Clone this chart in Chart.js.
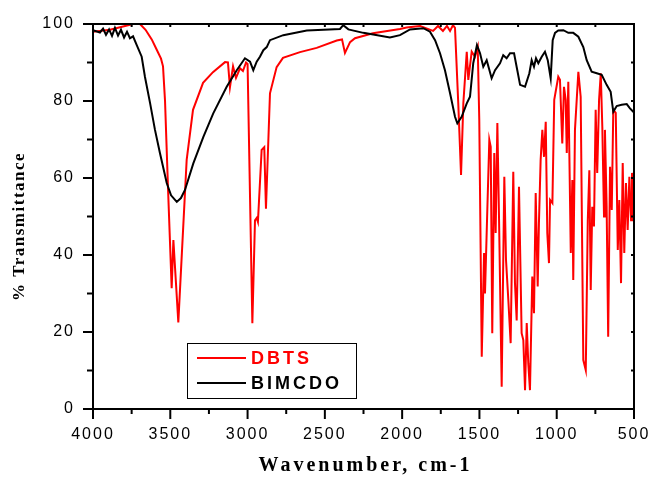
<!DOCTYPE html>
<html>
<head>
<meta charset="utf-8">
<script src="https://cdn.jsdelivr.net/npm/chart.js@4"></script>
<style>
  html, body { margin: 0; padding: 0; background: #fff; }
  #wrap { width: 651px; height: 477px; }
</style>
</head>
<body>
<div id="wrap"><canvas id="irChart" width="651" height="477"></canvas></div>
<script>
// IR spectra, wavenumber (cm-1) vs % transmittance
const seriesNames = ["DBTS", "BIMCDO"];
const seriesColors = ["#ff0000", "#000000"];

const dbtsWavenumbers = [
  4000, 3890, 3741, 3696, 3660, 3620, 3590, 3560, 3547, 3534, 3515, 3491, 3480, 3448, 3394, 3353, 3288,
  3224, 3146, 3127, 3114, 3094, 3075, 3049, 3030, 3010, 3000, 2969, 2952, 2941, 2933,
  2909, 2892, 2881, 2855, 2812, 2771, 2661, 2553, 2423, 2389, 2370, 2337, 2305, 2189,
  2014, 1971, 1884, 1800, 1768, 1736, 1710, 1690, 1671, 1658, 1637, 1619, 1604, 1582,
  1572, 1550, 1529, 1511, 1501, 1485, 1470, 1464, 1449, 1436, 1427, 1417, 1404, 1395,
  1384, 1373, 1356, 1339, 1328, 1313, 1298, 1281, 1270, 1259, 1244, 1227, 1216, 1205,
  1194, 1184, 1173, 1158, 1147, 1136, 1123, 1115, 1104, 1093, 1082, 1071, 1061, 1050,
  1043, 1028, 1016, 990, 979, 964, 953, 942, 935, 925, 909, 899, 893, 882, 860, 845,
  828, 812, 799, 789, 780, 770, 759, 748, 738, 726, 715, 705, 694, 688, 677, 667, 655,
  644, 634, 618, 605, 595, 584, 573, 563, 552, 541, 530, 519, 513, 500
];
const dbtsValues = [
  98, 98.5, 100, 100, 98.5, 96, 93.5, 91, 89, 80, 57.7, 31.4, 43.9, 22.5, 64.7, 77.7, 84.7,
  87.5, 90.1, 90, 83.6, 89, 86, 88.5, 87.8, 90, 89.6, 22.3, 49, 49.6, 48.6,
  67.3, 68, 52, 82, 88.8, 91.2, 92.7, 93.8, 95.7, 96, 92.5, 95.3, 96.3, 97.6,
  98.7, 99.1, 99.5, 98.2, 99.5, 98.2, 99.5, 98.2, 99.7, 99, 79.5, 60.8, 79.5, 92.8,
  85.5, 92.8, 91.5, 94, 75, 13.6, 40.5, 30, 51.7, 69.9, 68.1, 19.7, 66.5, 45.7,
  74.3, 49, 5.8, 60.3, 38.7, 28.3, 17.1, 61.6, 32.7, 23, 57.7, 19.7, 17.9, 4.9,
  22.3, 11.9, 4.9, 34.4, 24.9, 56.1, 31.8, 48.3, 64.7, 72.5, 65.5, 74.6, 45.7, 37.9,
  54.3, 53.5, 80.3, 86.3, 85.5, 69, 83.7, 80.3, 66.5, 85, 40.5, 59.5, 33.5, 72.5, 87.6, 81.1,
  12.7, 10.1, 49, 62, 30.9, 52.5, 47.4, 77.7, 61.3, 80.3, 87.2, 73.3, 50, 72.5, 52.5, 18.8, 62.9,
  51.7, 77.7, 76.9, 41.3, 54.3, 32.7, 63.9, 40.5, 58.7, 46.5, 60.3, 49, 61.3, 58
];

const bimcdoWavenumbers = [
  4000, 3955, 3935, 3916, 3896, 3877, 3858, 3838, 3819, 3799, 3780, 3761, 3741, 3717,
  3685, 3664, 3631, 3599, 3567, 3523, 3495, 3458, 3431, 3405, 3351, 3286, 3222, 3135,
  3070, 3017, 2984, 2963, 2941, 2920, 2898, 2876, 2855, 2769, 2617, 2402, 2381, 2348,
  2251, 2079, 2014, 1949, 1863, 1820, 1787, 1755, 1723, 1690, 1658, 1643, 1615, 1582,
  1561, 1540, 1516, 1496, 1475, 1453, 1421, 1399, 1367, 1346, 1324, 1302, 1276, 1255,
  1237, 1205, 1177, 1162, 1147, 1134, 1119, 1097, 1076, 1058, 1039, 1026, 1011, 990,
  957, 925, 893, 860, 828, 806, 774, 741, 709, 677, 651, 634, 612, 580, 547, 526, 500
];
const bimcdoValues = [
  98.4, 97.8, 98.8, 97.2, 98.6, 96.9, 99, 97, 98.5, 96.5, 98, 96.3, 96.8, 94.5,
  91.5, 86.3, 79.5, 72.5, 66.5, 58.7, 55.5, 53.8, 54.8, 56.9, 63.8, 70.7, 76.8, 83.7,
  88, 91.1, 90.2, 88, 90.2, 91.5, 93.2, 94, 95.8, 97.1, 98.3, 98.7, 99.7, 98.6,
  97.7, 96.5, 97.1, 98.6, 98.9, 98, 95.8, 92.4, 88, 82, 75.9, 74.2, 75.9, 79.4,
  81.1, 89.8, 94.5, 92.4, 88.9, 90.6, 85.9, 88, 89.8, 91.9, 91.1, 92.4, 92.4, 88,
  84.2, 83.7, 87.2, 90.6, 88.9, 91.1, 89.8, 91.5, 92.8, 90.6, 85.9, 95.8, 97.7, 98.3,
  98.4, 97.7, 97.7, 96.7, 94, 90.6, 87.6, 87.2, 86.8, 84.2, 82.4, 77.2, 78.7, 79, 79.2, 78.1, 77
];

const xMajorTicks = [4000, 3500, 3000, 2500, 2000, 1500, 1000, 500];
const xMinorTicks = [3750, 3250, 2750, 2250, 1750, 1250, 750];
const yMajorTicks = [0, 20, 40, 60, 80, 100];
const yMinorTicks = [10, 30, 50, 70, 90];

const toPoints = (xs, ys) => xs.map((x, i) => ({ x, y: ys[i] }));

const framePlugin = {
  id: "frame",
  beforeDraw(chart) {
    chart.ctx.letterSpacing = "2px";
  },
  afterDraw(chart) {
    const ctx = chart.ctx;
    const area = chart.chartArea;
    const xs = chart.scales.x;
    const ys = chart.scales.y;
    ctx.save();
    ctx.letterSpacing = "0px";
    ctx.strokeStyle = "#000";
    ctx.lineWidth = 2;
    ctx.strokeRect(area.left, area.top, area.right - area.left, area.bottom - area.top);

    const tick = (x1, y1, x2, y2) => {
      ctx.beginPath();
      ctx.moveTo(x1, y1);
      ctx.lineTo(x2, y2);
      ctx.stroke();
    };
    xMajorTicks.forEach((v) => {
      const px = xs.getPixelForValue(v);
      tick(px, area.bottom, px, area.bottom + 10);
      tick(px, area.top, px, area.top + 3);
    });
    xMinorTicks.forEach((v) => {
      const px = xs.getPixelForValue(v);
      tick(px, area.bottom, px, area.bottom + 5);
      tick(px, area.top, px, area.top + 3);
    });
    yMajorTicks.forEach((v) => {
      const py = ys.getPixelForValue(v);
      tick(area.left - 10, py, area.left, py);
      tick(area.right - 3, py, area.right, py);
    });
    yMinorTicks.forEach((v) => {
      const py = ys.getPixelForValue(v);
      tick(area.left - 6, py, area.left, py);
      tick(area.right - 3, py, area.right, py);
    });

    // axis titles
    ctx.fillStyle = "#000";
    ctx.textAlign = "center";
    ctx.textBaseline = "middle";
    ctx.font = "bold 20px 'Liberation Serif', 'Times New Roman', serif";
    ctx.letterSpacing = "3px";
    ctx.fillText("Wavenumber, cm-1", (area.left + area.right) / 2 + 2, 466);

    ctx.save();
    ctx.translate(20, (area.top + area.bottom) / 2 + 10);
    ctx.rotate(-Math.PI / 2);
    ctx.font = "bold 17px 'Liberation Serif', 'Times New Roman', serif";
    ctx.letterSpacing = "1.5px";
    ctx.fillText("% Transmittance", 0, 0);
    ctx.restore();

    // legend box
    const bx = 187, by = 343, bw = 169, bh = 55;
    ctx.lineWidth = 1;
    ctx.strokeStyle = "#000";
    ctx.strokeRect(bx + 0.5, by + 0.5, bw, bh);
    ctx.textAlign = "left";
    ctx.font = "bold 18px 'Liberation Sans', Arial, sans-serif";
    ctx.letterSpacing = "3px";
    chart.data.datasets.forEach((ds, i) => {
      const ly = by + 15 + i * 25;
      ctx.strokeStyle = ds.borderColor;
      ctx.lineWidth = 2;
      tick(bx + 10, ly, bx + 59, ly);
      ctx.fillStyle = ds.borderColor;
      ctx.fillText(ds.label, bx + 64, ly + 1);
    });
    ctx.restore();
  },
};

new Chart(document.getElementById("irChart"), {
  type: "line",
  data: {
    datasets: [
      {
        label: seriesNames[0],
        data: toPoints(dbtsWavenumbers, dbtsValues),
        borderColor: seriesColors[0],
        borderWidth: 2,
        pointRadius: 0,
        tension: 0,
        order: 1,
      },
      {
        label: seriesNames[1],
        data: toPoints(bimcdoWavenumbers, bimcdoValues),
        borderColor: seriesColors[1],
        borderWidth: 2,
        pointRadius: 0,
        tension: 0,
        order: 0,
      },
    ],
  },
  options: {
    responsive: false,
    animation: false,
    layout: { padding: { left: 0, top: 24, right: 17, bottom: 0 } },
    plugins: { legend: { display: false }, tooltip: { enabled: false } },
    scales: {
      x: {
        type: "linear",
        reverse: true,
        min: 500,
        max: 4000,
        border: { display: false },
        grid: { display: false, drawTicks: false },
        ticks: {
          stepSize: 500,
          padding: 16,
          color: "#000",
          maxRotation: 0,
          callback: (v) => String(v),
          font: { family: "'Liberation Sans', Arial, sans-serif", size: 16 },
        },
        afterFit(scale) {
          scale.height = 68;
          scale.paddingLeft = 0;
          scale.paddingRight = 0;
        },
      },
      y: {
        min: 0,
        max: 100,
        border: { display: false },
        grid: { display: false, drawTicks: false },
        ticks: {
          stepSize: 20,
          padding: 18,
          color: "#000",
          callback: (v) => String(v),
          font: { family: "'Liberation Sans', Arial, sans-serif", size: 16 },
        },
        afterFit(scale) {
          scale.width = 93;
          scale.paddingTop = 0;
          scale.paddingBottom = 0;
        },
      },
    },
  },
  plugins: [framePlugin],
});
</script>
</body>
</html>
